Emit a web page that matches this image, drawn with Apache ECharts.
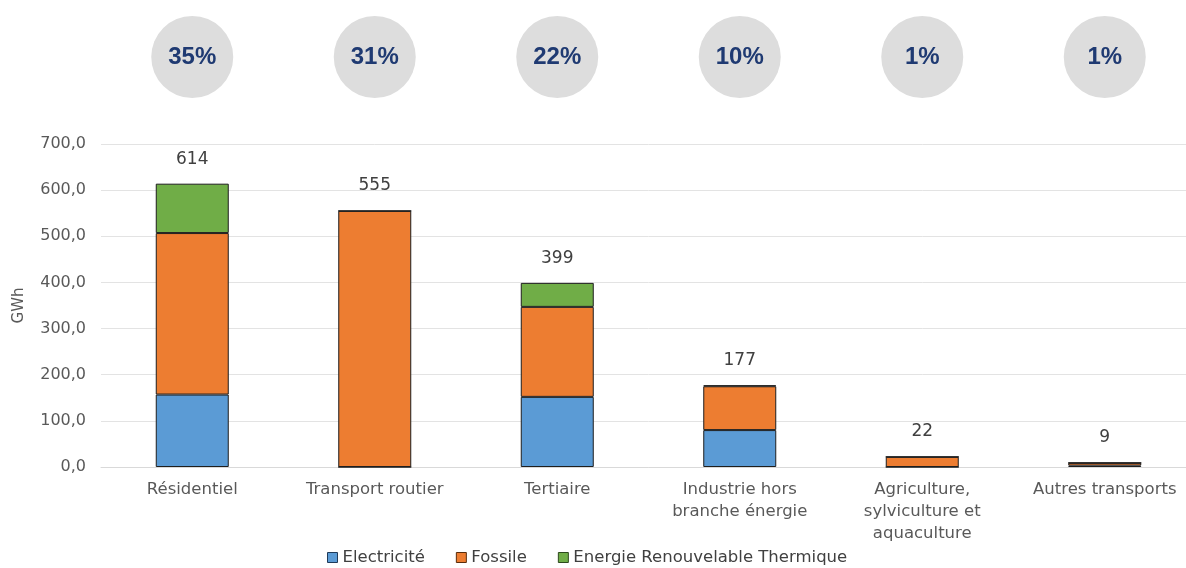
<!DOCTYPE html>
<html><head><meta charset="utf-8">
<script src="https://cdn.jsdelivr.net/npm/echarts@6/dist/echarts.min.js"></script>
<style>html,body{margin:0;padding:0;background:#fff;overflow:hidden}#c{width:1196px;height:568px}</style>
</head><body><div id="c"></div>
<script>
const categories = ['Résidentiel','Transport routier','Tertiaire','Industrie hors\nbranche énergie','Agriculture,\nsylviculture et\naquaculture','Autres transports'];
const electricite = [157, 0, 152, 80, 0, 3];
const fossile = [350, 555, 195, 95, 22, 6];
const ert = [107, 0, 52, 2, 0, 0];
const totals = [614, 555, 399, 177, 22, 9];
const shares = ['35%','31%','22%','10%','1%','1%'];
const yTicks = [0,100,200,300,400,500,600,700];

const font = '"DejaVu Sans", sans-serif';
const chart = echarts.init(document.getElementById('c'));
const border = {borderColor:'#1e1e1e', borderWidth:1};
chart.setOption({
  animation:false,
  textStyle:{fontFamily:font},
  grid:[
    {left:101, right:0, top:144, height:323},
    {left:101, right:0, top:17, height:80}
  ],
  xAxis:[
    {type:'category', data:categories, gridIndex:0,
     axisLine:{lineStyle:{color:'#d9d9d9', width:1}}, axisTick:{show:false},
     axisLabel:{color:'#595959', fontSize:16.5, margin:12, lineHeight:22, interval:0, fontFamily:font}},
    {type:'category', data:categories, gridIndex:1, show:false}
  ],
  yAxis:[
    {type:'value', gridIndex:0, min:yTicks[0], max:yTicks[yTicks.length-1], interval:100,
     name:'GWh', nameLocation:'middle', nameGap:74, nameRotate:90,
     nameTextStyle:{color:'#595959', fontSize:15, fontFamily:font},
     axisLine:{show:false}, axisTick:{show:false},
     axisLabel:{color:'#595959', fontSize:16, margin:15, fontFamily:font,
       formatter:v=>v.toFixed(1).replace('.',',')},
     splitLine:{lineStyle:{color:'#e3e3e3', width:1}}},
    {type:'value', gridIndex:1, min:0, max:1, show:false}
  ],
  legend:{top:544, left:322, itemWidth:10, itemHeight:10, itemGap:31,
    textStyle:{color:'#404040', fontSize:16.5, fontFamily:font},
    data:[
      {name:'Electricité', icon:'rect', itemStyle:{borderColor:'#1f3b5a', borderWidth:1}},
      {name:'Fossile', icon:'rect', itemStyle:{borderColor:'#5a2d0c', borderWidth:1}},
      {name:'Energie Renouvelable Thermique', icon:'rect', itemStyle:{borderColor:'#2d4a1d', borderWidth:1}}
    ]},
  series:[
    {name:'Electricité', type:'bar', stack:'t', barWidth:'40%', data:electricite,
     itemStyle:Object.assign({color:'#5b9bd5'}, border)},
    {name:'Fossile', type:'bar', stack:'t', data:fossile,
     itemStyle:Object.assign({color:'#ed7d31'}, border)},
    {name:'Energie Renouvelable Thermique', type:'bar', stack:'t', data:ert,
     itemStyle:Object.assign({color:'#70ad47'}, border),
     label:{show:true, position:'top', distance:16, color:'#404040', fontSize:17, fontFamily:font,
       formatter:p=>String(totals[p.dataIndex])}},
    {type:'scatter', xAxisIndex:1, yAxisIndex:1, symbol:'circle', symbolSize:82,
     data:shares.map(()=>0.5),
     itemStyle:{color:'#dddddd', opacity:1},
     label:{show:true, position:'inside', color:'#1f3a72', fontSize:24, fontWeight:'bold',
       fontFamily:'"Liberation Sans", Arial, sans-serif',
       formatter:p=>shares[p.dataIndex]},
     silent:true}
  ]
});
</script></body></html>
